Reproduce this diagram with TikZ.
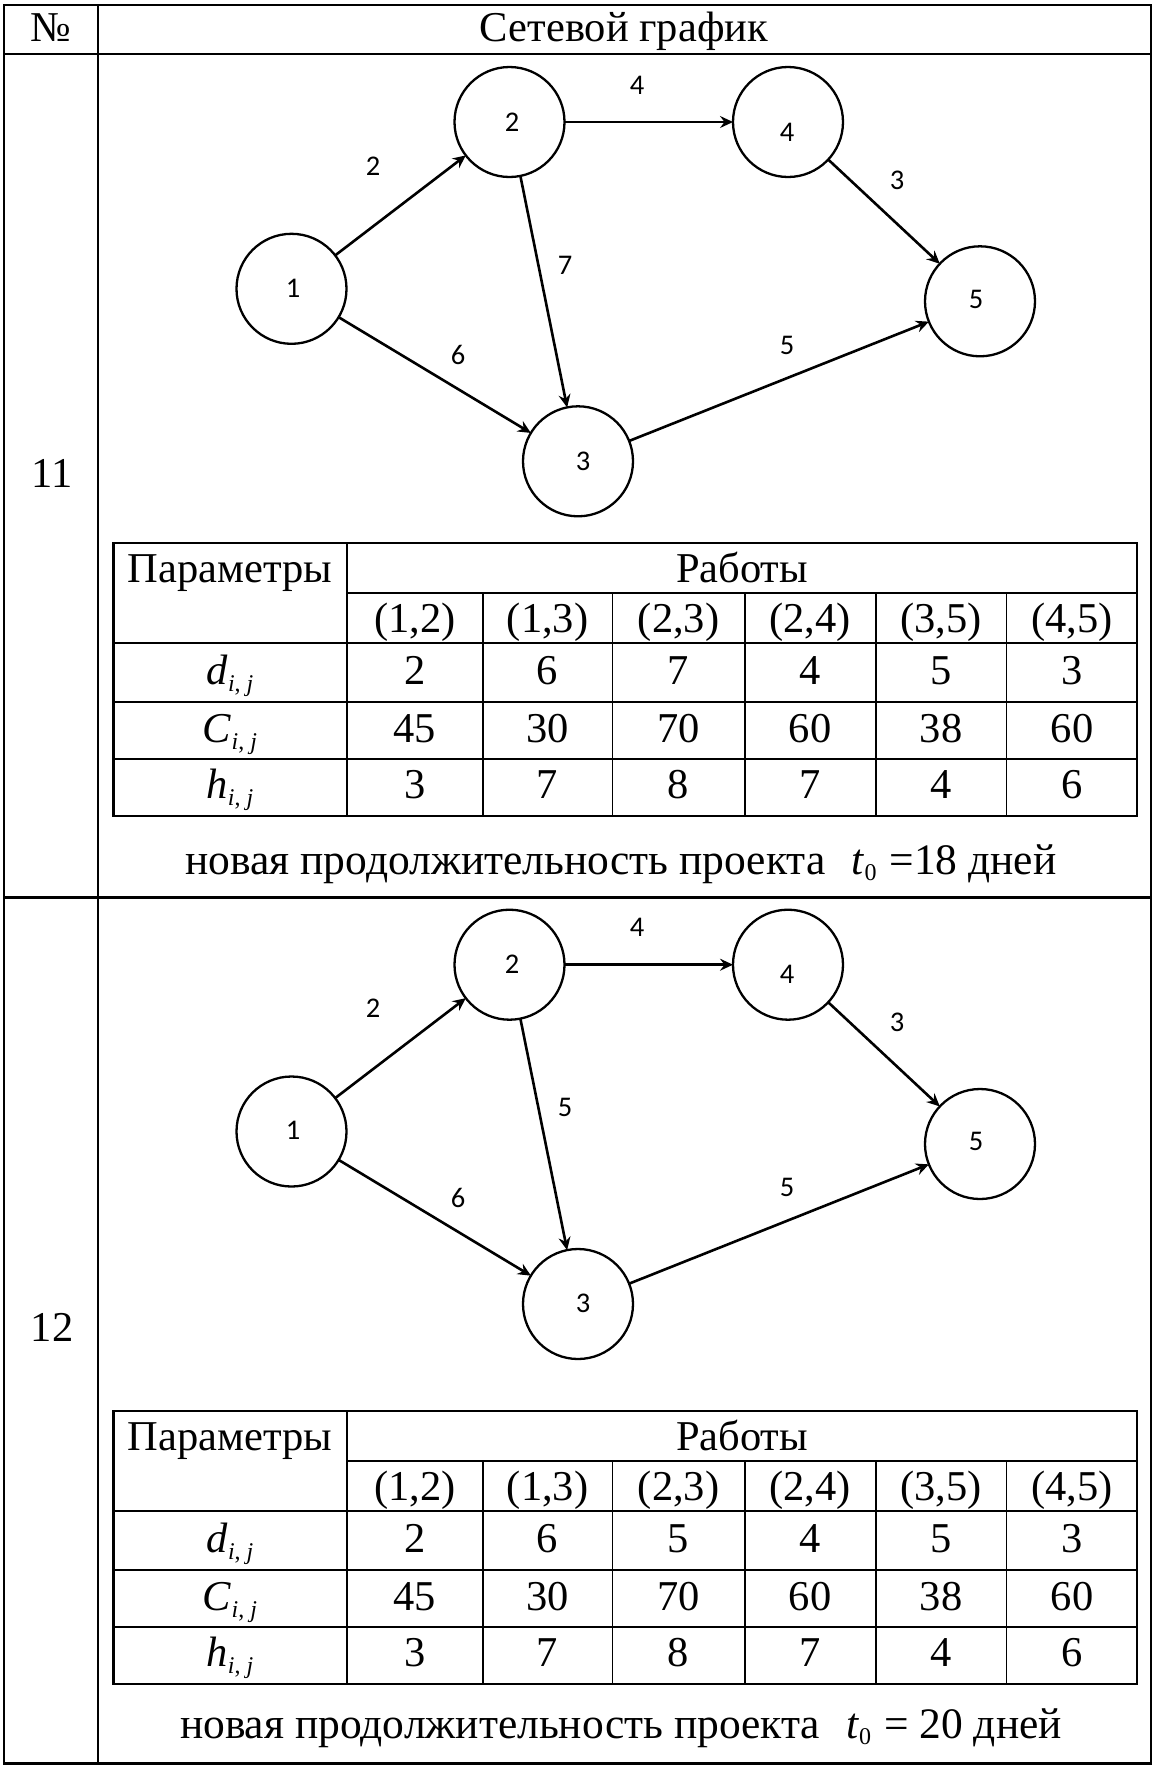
\documentclass[tikz,border=0pt]{standalone}
\usepackage{fontspec}
\setmainfont{Liberation Serif}
\newfontfamily\calfont{Carlito}
\usetikzlibrary{arrows.meta}

\tikzset{
  frameline/.style={line width=2.6pt},
  tabouter/.style={line width=2.2pt},
  tabinner/.style={line width=1.7pt},
  vtx/.style={circle, draw, line width=2.3pt, minimum size=110pt, inner sep=0pt, outer sep=0pt},
  glab/.style={font=\calfont\fontsize{28.5}{30}\selectfont, inner sep=0pt},
  edge/.style={line width=2.6pt, -{Stealth[length=13pt,width=12pt,inset=4.5pt]}},
  txt/.style={font=\fontsize{42.5}{48}\selectfont, inner sep=0pt, anchor=base},
  btxt/.style={font=\fontsize{43.5}{50}\selectfont, inner sep=0pt, anchor=base},
}

\newcommand\pij[1]{\textit{#1}\raisebox{-0.4ex}{\fontsize{24}{24}\selectfont\textit{i}, \textit{j}}}

% network graph: #1 prefix, #2 vertical offset (pt), #3 weight of (2,3)
\newcommand\netgraph[3]{%
\begin{scope}[yshift=-#2pt]
  \node[vtx] (#1n1) at (291.5,288.8) {};
  \node[vtx] (#1n2) at (509.5,122) {};
  \node[vtx] (#1n3) at (578,461.3) {};
  \node[vtx] (#1n4) at (788,122) {};
  \node[vtx] (#1n5) at (980,301.3) {};
  \node[glab] (#1t1) at (293,288) {1};
  \node[glab] (#1t2) at (512,122) {2};
  \node[glab] (#1t3) at (583,461) {3};
  \node[glab] (#1t4) at (787,132) {4};
  \node[glab] (#1t5) at (976,299) {5};
  \draw[edge] (#1n1) -- (#1n2);
  \draw[edge] (#1n1) -- (#1n3);
  \draw[edge] (#1n2) -- (#1n3);
  \draw[edge] (#1n2) -- (#1n4);
  \draw[edge] (#1n3) -- (#1n5);
  \draw[edge] (#1n4) -- (#1n5);
  \node[glab] (#1w12) at (373,166) {2};
  \node[glab] (#1w24) at (637,85) {4};
  \node[glab] (#1w23) at (565,265) {#3};
  \node[glab] (#1w13) at (458,355) {6};
  \node[glab] (#1w45) at (897,180) {3};
  \node[glab] (#1w35) at (787,345) {5};
\end{scope}}

% parameter table: #1 prefix, #2 vertical offset, #3 d(2,3)
\newcommand\paramtable[3]{%
\begin{scope}[yshift=-#2pt]
  \draw[tabinner] (347,593.3) -- (1137.3,593.3);
  \foreach \yy in {643.3,701.7,759} \draw[tabinner] (113.4,\yy) -- (1137.3,\yy);
  \draw[tabinner] (347,543.3) -- (347,815.7);
  \foreach \xx in {482.8,612.4,744.7,875.7,1006.6} \draw[tabinner] (\xx,593.3) -- (\xx,815.7);
  \draw[tabouter] (113.4,543.3) rectangle (1137.3,815.7);
  \node[txt] (#1hp) at (230,582) {Параметры};
  \node[txt] (#1hr) at (742,582) {Работы};
  \node[txt] (#1pd) at (230,684) {\pij{d}};
  \node[txt] (#1pc) at (230,742) {\pij{C}};
  \node[txt] (#1ph) at (230,798) {\pij{h}};
  \foreach \cx/\pr/\dv/\cv/\hv [count=\k] in
    {414.9/{(1,2)}/2/45/3, 547.6/{(1,3)}/6/30/7, 678.6/{(2,3)}/#3/70/8,
     810.2/{(2,4)}/4/60/7, 941.2/{(3,5)}/5/38/4, 1072/{(4,5)}/3/60/6}{
    \node[txt] (#1w\k) at (\cx,632) {\pr};
    \node[txt] (#1d\k) at (\cx,684) {\dv};
    \node[txt] (#1c\k) at (\cx,742) {\cv};
    \node[txt] (#1h\k) at (\cx,798) {\hv};
  }
\end{scope}}

\begin{document}
\begin{tikzpicture}[x=1pt,y=-1pt]
  \useasboundingbox (0,0) rectangle (1153,1765);
  \fill[white] (0,0) rectangle (1153,1765);
  % frame
  \draw[frameline] (4,5) rectangle (1151,1763.5);
  \draw[frameline] (98,5) -- (98,1763.5);
  \draw[frameline] (4,54) -- (1151,54);
  \draw[frameline] (4,897.3) -- (1151,897.3);
  % header
  \node[txt] (hnum) at (51,41) {№};
  \node[txt] (hgraph) at (624,41) {Сетевой график};
  \node[txt] (r11) at (52,487) {11};
  \node[txt] (r12) at (52,1341.5) {12};
  % row 11
  \netgraph{a}{0}{7}
  \paramtable{ta}{0}{7}
  \node[btxt] (na) at (621,874) {новая продолжительность проекта\hspace{0.6em}\textit{t}\raisebox{-0.3ex}{\fontsize{24}{24}\selectfont 0}\hspace{0.3em}=18 дней};
  % row 12
  \netgraph{b}{842.7}{5}
  \paramtable{tb}{868}{5}
  \node[btxt] (nb) at (621,1738) {новая продолжительность проекта\hspace{0.6em}\textit{t}\raisebox{-0.3ex}{\fontsize{24}{24}\selectfont 0}\hspace{0.3em}= 20 дней};
\end{tikzpicture}
\end{document}
